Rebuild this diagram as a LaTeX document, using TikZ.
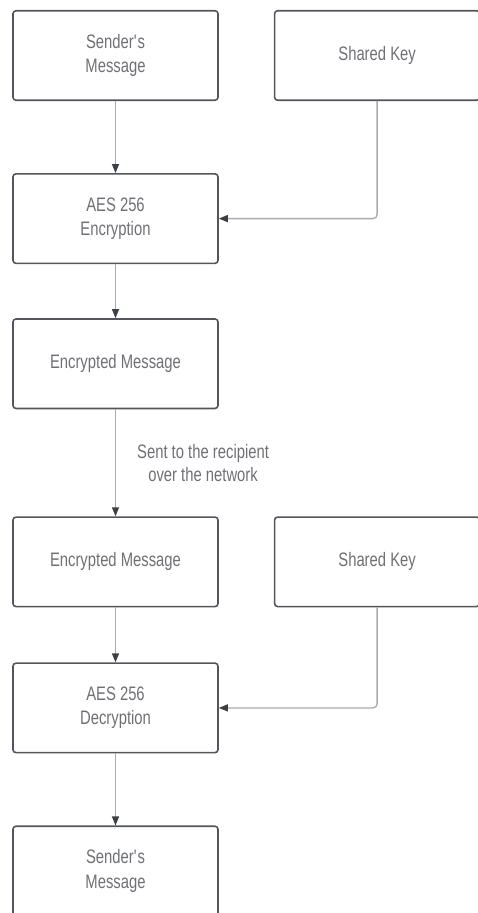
\documentclass[tikz,border=0pt]{standalone}
\usepackage{fontspec}
\setmainfont{Liberation Sans}[FakeStretch=0.76]
\usetikzlibrary{positioning,arrows.meta}

\definecolor{bordegris}{HTML}{52565C}
\definecolor{textogris}{HTML}{6E7075}
\definecolor{lineagris}{HTML}{A8AAAD}
\definecolor{puntagris}{HTML}{3C4046}

\begin{document}
\begin{tikzpicture}[x=1pt, y=1pt, >={Triangle[length=9pt, width=7pt, color=puntagris]},
  caja/.style={draw=bordegris, line width=1.6pt, rounded corners=3pt, minimum width=205pt, minimum height=89.5pt, align=center, text=textogris, font=\fontsize{19.5}{24.5}\selectfont},
  flecha/.style={->, draw=lineagris, line width=1.3pt},
  nota/.style={align=center, text=textogris, inner sep=0pt, font=\fontsize{19.5}{23}\selectfont}]
  \useasboundingbox (0,0) rectangle (477,-913);

  % Nodos del emisor
  \node[caja] (msg) at (115.5,-55.5) {Sender\textquotesingle s\\Message};
  \node[caja, right=55pt of msg] (key) {Shared Key};

  % Nodos de cifrado
  \node[caja, below=72pt of msg] (enc) {AES 256\\Encryption};
  \node[caja, below=54pt of enc] (cipher) {Encrypted Message};

  % Nodos del receptor
  \node[caja, below=107pt of cipher] (recv) {Encrypted Message};
  \node[caja, right=55pt of recv] (key2) {Shared Key};
  \node[caja, below=55pt of recv] (dec) {AES 256\\Decryption};
  \node[caja, below=72pt of dec] (out) {Sender\textquotesingle s\\Message};

  % Flechas
  \draw[flecha] (msg) -- (enc);
  \draw[flecha, rounded corners=4pt] (key) |- (enc);
  \draw[flecha] (enc) -- (cipher);
  \draw[flecha] (cipher) -- node[nota, right=21pt] {Sent to the recipient\\over the network} (recv);
  \draw[flecha] (recv) -- (dec);
  \draw[flecha, rounded corners=4pt] (key2) |- (dec);
  \draw[flecha] (dec) -- (out);
\end{tikzpicture}
\end{document}
